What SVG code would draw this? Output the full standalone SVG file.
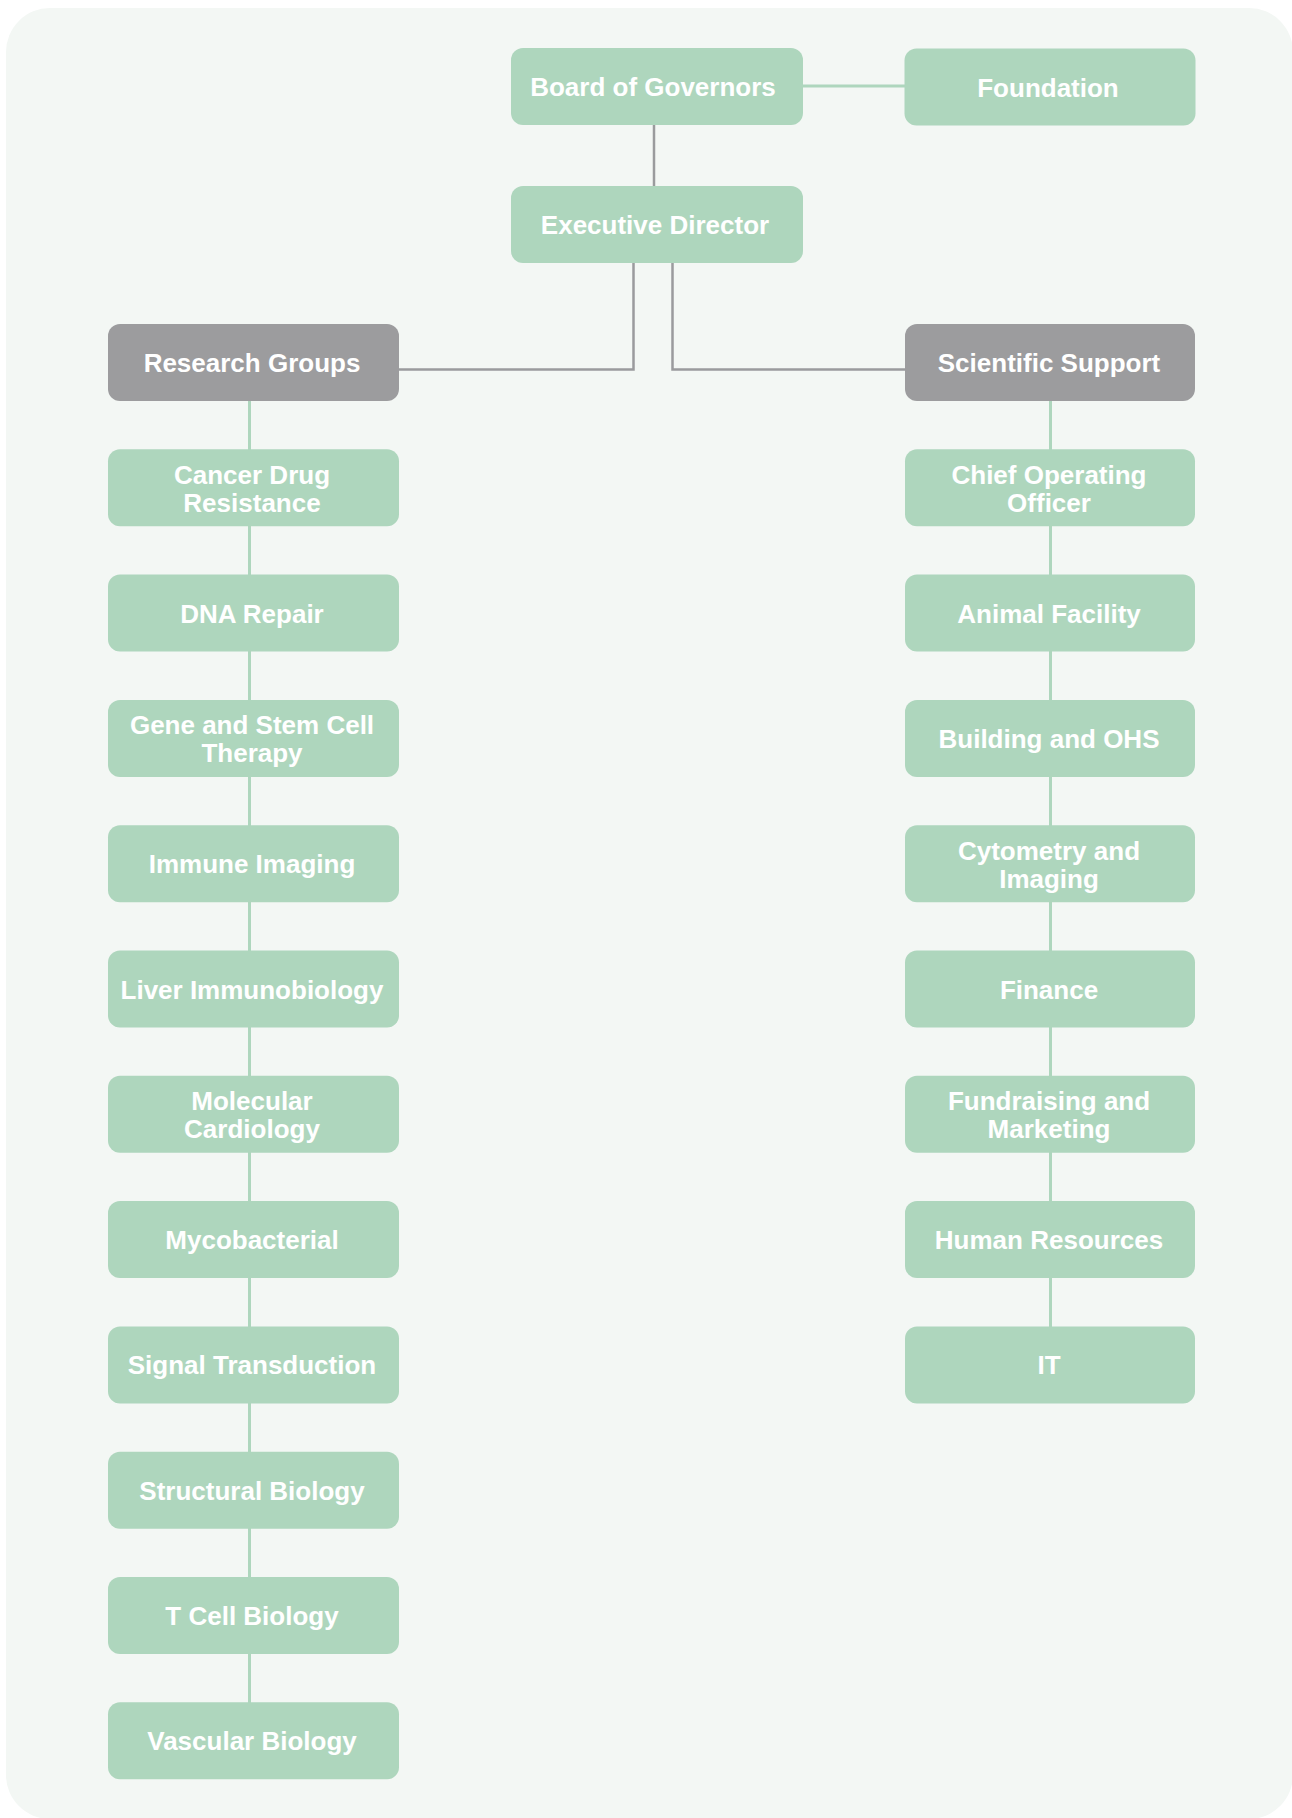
<svg xmlns="http://www.w3.org/2000/svg" width="1292" height="1818" viewBox="0 0 1292 1818">
<style>
.bg{fill:#f3f7f4}
.g{fill:#aed6bd}
.d{fill:#9c9c9e}
.t{fill:#ffffff;font-family:"Liberation Sans",Arial,sans-serif;font-weight:bold;font-size:26px;text-anchor:middle}
.cg{stroke:#aed6bd;stroke-width:3;fill:none}
.cd{stroke:#9a9b9d;stroke-width:2.5;fill:none}
</style>
<rect class="bg" x="6" y="8" width="1287" height="1811" rx="44"/>
<g id="connectors">
<line class="cg" x1="803" y1="86" x2="905" y2="86"/>
<line class="cd" x1="654" y1="125" x2="654" y2="186"/>
<polyline class="cd" points="633.5,263 633.5,369.5 399,369.5"/>
<polyline class="cd" points="672.5,263 672.5,369.5 905,369.5"/>
<line class="cg" x1="249.5" y1="400" x2="249.5" y2="1703"/>
<line class="cg" x1="1050.5" y1="400" x2="1050.5" y2="1327"/>
</g>
<g id="board"><rect class="g" x="511" y="48" width="292" height="77" rx="12"/><text class="t" x="653" y="96">Board of Governors</text></g>
<g id="foundation"><rect class="g" x="904.5" y="48.5" width="291" height="77" rx="12"/><text class="t" x="1048" y="97">Foundation</text></g>
<g id="executive"><rect class="g" x="511" y="186" width="292" height="77" rx="12"/><text class="t" x="655" y="234">Executive Director</text></g>
<g id="research"><rect class="d" x="108" y="324" width="291" height="77" rx="12"/><text class="t" x="252" y="372">Research Groups</text></g>
<g id="support"><rect class="d" x="905" y="324" width="290" height="77" rx="12"/><text class="t" x="1049" y="372">Scientific Support</text></g>
<g id="cancer"><rect class="g" x="108" y="449.3" width="291" height="77" rx="12"/><text class="t" x="252" y="484">Cancer Drug</text><text class="t" x="252" y="512">Resistance</text></g>
<g id="dna"><rect class="g" x="108" y="574.6" width="291" height="77" rx="12"/><text class="t" x="252" y="622.6">DNA Repair</text></g>
<g id="gene"><rect class="g" x="108" y="699.9" width="291" height="77" rx="12"/><text class="t" x="252" y="734">Gene and Stem Cell</text><text class="t" x="252" y="762">Therapy</text></g>
<g id="immune"><rect class="g" x="108" y="825.2" width="291" height="77" rx="12"/><text class="t" x="252" y="873.2">Immune Imaging</text></g>
<g id="liver"><rect class="g" x="108" y="950.5" width="291" height="77" rx="12"/><text class="t" x="252" y="998.5">Liver Immunobiology</text></g>
<g id="molecular"><rect class="g" x="108" y="1075.8" width="291" height="77" rx="12"/><text class="t" x="252" y="1110">Molecular</text><text class="t" x="252" y="1138">Cardiology</text></g>
<g id="myco"><rect class="g" x="108" y="1201.1" width="291" height="77" rx="12"/><text class="t" x="252" y="1249.1">Mycobacterial</text></g>
<g id="signal"><rect class="g" x="108" y="1326.4" width="291" height="77" rx="12"/><text class="t" x="252" y="1374.4">Signal Transduction</text></g>
<g id="structural"><rect class="g" x="108" y="1451.7" width="291" height="77" rx="12"/><text class="t" x="252" y="1499.7">Structural Biology</text></g>
<g id="tcell"><rect class="g" x="108" y="1577" width="291" height="77" rx="12"/><text class="t" x="252" y="1625">T Cell Biology</text></g>
<g id="vascular"><rect class="g" x="108" y="1702.3" width="291" height="77" rx="12"/><text class="t" x="252" y="1750.3">Vascular Biology</text></g>
<g id="coo"><rect class="g" x="905" y="449.3" width="290" height="77" rx="12"/><text class="t" x="1049" y="484">Chief Operating</text><text class="t" x="1049" y="512">Officer</text></g>
<g id="animal"><rect class="g" x="905" y="574.6" width="290" height="77" rx="12"/><text class="t" x="1049" y="622.6">Animal Facility</text></g>
<g id="building"><rect class="g" x="905" y="699.9" width="290" height="77" rx="12"/><text class="t" x="1049" y="747.9">Building and OHS</text></g>
<g id="cytometry"><rect class="g" x="905" y="825.2" width="290" height="77" rx="12"/><text class="t" x="1049" y="859.5">Cytometry and</text><text class="t" x="1049" y="887.5">Imaging</text></g>
<g id="finance"><rect class="g" x="905" y="950.5" width="290" height="77" rx="12"/><text class="t" x="1049" y="998.5">Finance</text></g>
<g id="fundraising"><rect class="g" x="905" y="1075.8" width="290" height="77" rx="12"/><text class="t" x="1049" y="1110">Fundraising and</text><text class="t" x="1049" y="1138">Marketing</text></g>
<g id="hr"><rect class="g" x="905" y="1201.1" width="290" height="77" rx="12"/><text class="t" x="1049" y="1249.1">Human Resources</text></g>
<g id="it"><rect class="g" x="905" y="1326.4" width="290" height="77" rx="12"/><text class="t" x="1049" y="1374.4">IT</text></g>
</svg>
